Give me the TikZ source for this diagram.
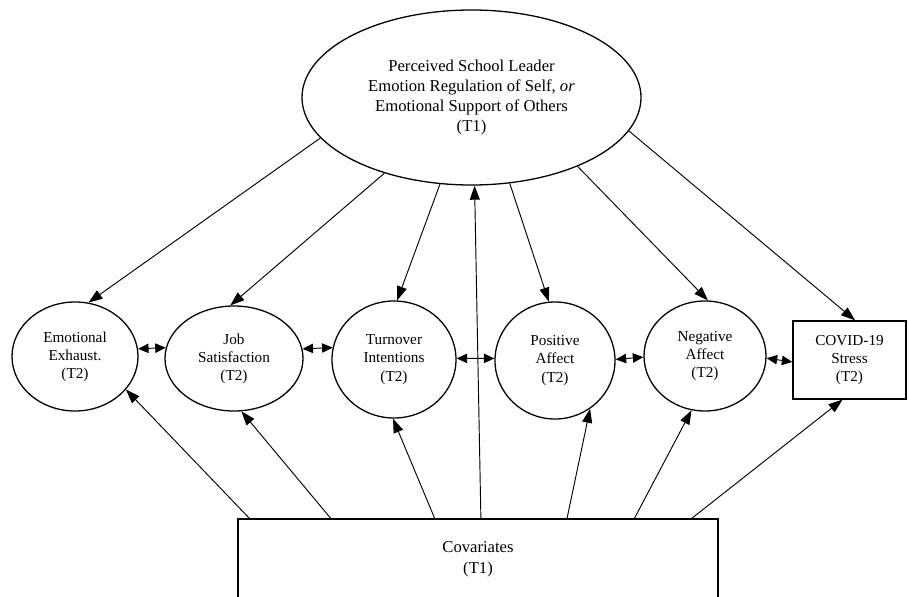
\documentclass[tikz,border=0pt]{standalone}
\usepackage{fontspec}
\setmainfont{Liberation Serif}
\usetikzlibrary{arrows.meta,calc,shapes.geometric}
\begin{document}
\begin{tikzpicture}[x=0.03cm,y=-0.03cm,
  latent/.style={draw,ellipse,line width=1.1pt,inner sep=0pt,align=center,
    font=\fontsize{13}{15.5}\selectfont},
  observed/.style={draw,rectangle,line width=1.1pt,inner sep=0pt,align=center,
    font=\fontsize{13}{15.5}\selectfont},
  path/.style={line width=0.8pt,-{Triangle[length=12pt,width=8.5pt]}},
  cov/.style={line width=0.8pt,{Triangle[length=9pt,width=8pt]}-{Triangle[length=9pt,width=8pt]}}]
\useasboundingbox (0,0) rectangle (909,596);

\node[latent,minimum width=10.17cm,minimum height=5.25cm,
  font=\fontsize{14.2}{17}\selectfont] (top) at (471.5,97.5)
  {Perceived School Leader\\Emotion Regulation of Self, \textit{or}\\Emotional Support of Others\\(T1)};

\node[latent,minimum width=3.78cm,minimum height=3.27cm] (ee) at (75,356.5) {Emotional\\Exhaust.\\(T2)};
\node[latent,minimum width=4.14cm,minimum height=3.15cm] (js) at (234,358.5) {Job\\Satisfaction\\(T2)};
\node[latent,minimum width=3.72cm,minimum height=3.51cm] (to) at (394,359.5) {Turnover\\Intentions\\(T2)};
\node[latent,minimum width=3.6cm,minimum height=3.51cm] (pa) at (555,360.5) {Positive\\Affect\\(T2)};
\node[latent,minimum width=3.66cm,minimum height=3.3cm] (na) at (705,356) {Negative\\Affect\\(T2)};
\node[observed,minimum width=3.39cm,minimum height=2.34cm] (covid) at (849.5,360) {COVID-19\\Stress\\(T2)};

\node[observed,minimum width=14.4cm,minimum height=2.43cm,
  font=\fontsize{14.2}{18}\selectfont] (covar) at (478,559.5) {Covariates\\(T1)};

% paths from top latent
\draw[path] (top.195.7) -- (ee.76.8);
\draw[path] (top.221.1) -- (js.94.3);
\draw[path] (top.250.4) -- (to.87.1);
\draw[path] (top.294.6) -- (pa.96.8);
\draw[path] (top.327.4) -- (na.87.9);
\draw[path] (top.348) -- (covid.82);

% covariances
\draw[cov] (ee.7.8) -- (js.171.2);
\draw[cov] (js.8.8) -- (to.169.3);
\draw[cov] (to.1.5) -- (pa.178.8);
\draw[cov] (pa.1.2) -- (na.181.9);
\draw[cov] (na.358.1) -- (covid.182);

% covariate paths
\draw[path] ($(covar.north west)!0.025!(covar.north east)$) -- (ee.327.5);
\draw[path] ($(covar.north west)!0.194!(covar.north east)$) -- (js.278.6);
\draw[path] ($(covar.north west)!0.410!(covar.north east)$) -- (to.269);
\draw[path] ($(covar.north west)!0.506!(covar.north east)$) -- (top.272.9);
\draw[path] ($(covar.north west)!0.685!(covar.north east)$) -- (pa.306.6);
\draw[path] ($(covar.north west)!0.825!(covar.north east)$) -- (na.256);
\draw[path] ($(covar.north west)!0.944!(covar.north east)$) -- (covid.260.8);
\end{tikzpicture}
\end{document}
